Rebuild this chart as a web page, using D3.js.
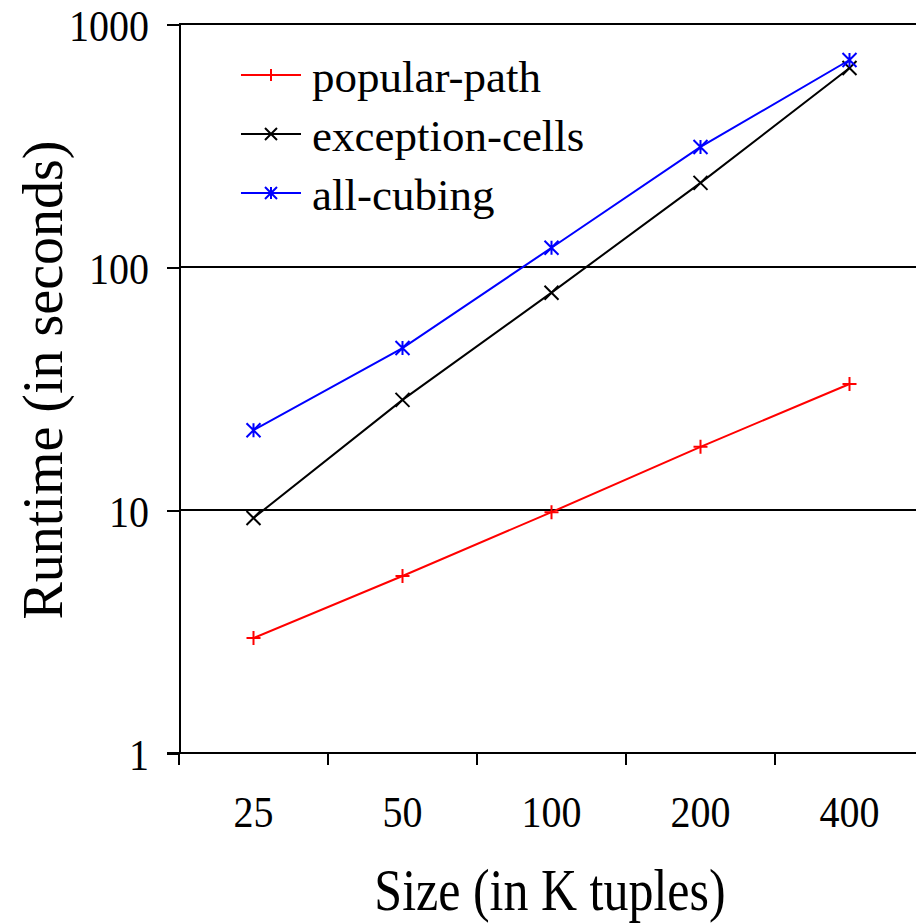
<!DOCTYPE html>
<meta charset="utf-8">
<style>
	body { margin: 0; background: #fff; }
	text { font-family: "Liberation Serif", "Times New Roman", serif; fill: #000; }
	.grid line, .axis line, .axis path { stroke: #000; stroke-width: 2px; shape-rendering: crispEdges; }
	.line { fill: none; stroke-width: 2px; }
	.mark { fill: none; stroke-width: 2px; }
</style>
<svg width="916" height="924"></svg>
<script src="https://cdn.jsdelivr.net/npm/d3@7"></script>
<script>

// values
var sizes = ["25", "50", "100", "200", "400"];
var popularPath = [2.97, 5.35, 9.8, 18.2, 33.0];
var exceptionCells = [9.27, 28.4, 78.4, 222, 659];
var allCubing = [21.3, 46.4, 120, 312, 711];
var yTicks = [1, 10, 100, 1000];

var series = [
	{name: "popular-path", values: popularPath, color: "#ff0000", mark: "plus"},
	{name: "exception-cells", values: exceptionCells, color: "#000000", mark: "cross"},
	{name: "all-cubing", values: allCubing, color: "#0000ff", mark: "star"}
];

var svg = d3.select("svg");

var plotLeft = 179, plotTop = 24, plotBottom = 753, band = 149;

var x = d3.scaleBand().domain(sizes).range([plotLeft, plotLeft + band * sizes.length]).padding(0);
var y = d3.scaleLog().domain([1, 1000]).range([plotBottom, plotTop]);

function cx(d) { return x(d) + x.bandwidth() / 2; }

// marker shapes, r = half size
function markPath(type, r) {
	var p = d3.path();
	if (type == "plus" || type == "star") {
		if (type == "plus") { p.moveTo(-r, 0); p.lineTo(r, 0); }
		p.moveTo(0, -r); p.lineTo(0, r);
	}
	if (type == "cross" || type == "star") {
		p.moveTo(-r, -r); p.lineTo(r, r);
		p.moveTo(-r, r); p.lineTo(r, -r);
	}
	return p.toString();
}

// gridlines (10, 100, 1000)
svg.append("g").attr("class", "grid")
	.selectAll("line")
	.data(yTicks.slice(1))
	.enter().append("line")
	.attr("x1", plotLeft).attr("x2", 916)
	.attr("y1", function(d) { return y(d); })
	.attr("y2", function(d) { return y(d); });

// y axis
var yAxis = svg.append("g")
	.attr("class", "axis axis--y")
	.attr("transform", "translate(" + plotLeft + ",0)")
	.call(d3.axisLeft(y).tickValues(yTicks).tickSize(12).tickSizeOuter(0).tickFormat(""));

yAxis.selectAll(".tick").append("text")
	.attr("transform", "translate(-30,16) scale(1,1.1)")
	.attr("text-anchor", "end")
	.style("font-size", "40px")
	.text(function(d) { return d; });

// x axis: ticks on band edges
var xAxis = svg.append("g")
	.attr("class", "axis axis--x")
	.attr("transform", "translate(0," + plotBottom + ")");

xAxis.append("line")
	.attr("x1", plotLeft - 12).attr("x2", 916)
	.attr("y1", 0).attr("y2", 0);

xAxis.selectAll(".edge")
	.data(sizes)
	.enter().append("line")
	.attr("class", "edge")
	.attr("x1", function(d) { return x(d); })
	.attr("x2", function(d) { return x(d); })
	.attr("y1", 0).attr("y2", 12);

xAxis.selectAll(".lbl")
	.data(sizes)
	.enter().append("text")
	.attr("class", "lbl")
	.attr("transform", function(d) { return "translate(" + cx(d) + ",74) scale(1,1.1)"; })
	.attr("text-anchor", "middle")
	.style("font-size", "40px")
	.text(function(d) { return d; });

// axis titles
svg.append("text")
	.attr("transform", "translate(550,910) scale(1,1.2)")
	.attr("text-anchor", "middle")
	.style("font-size", "50px")
	.text("Size (in K tuples)");

svg.append("text")
	.attr("transform", "translate(62,380) rotate(-90)")
	.attr("text-anchor", "middle")
	.style("font-size", "56px")
	.text("Runtime (in seconds)");

// series
var line = d3.line()
	.x(function(d, i) { return cx(sizes[i]); })
	.y(function(d) { return y(d); });

var s = svg.selectAll(".series")
	.data(series)
	.enter().append("g")
	.attr("class", "series");

s.append("path")
	.attr("class", "line")
	.attr("d", function(d) { return line(d.values); })
	.style("stroke", function(d) { return d.color; });

s.each(function(ser) {
	d3.select(this).selectAll(".mark")
		.data(ser.values)
		.enter().append("path")
		.attr("class", "mark")
		.attr("transform", function(d, i) { return "translate(" + cx(sizes[i]) + "," + y(d) + ")"; })
		.attr("d", markPath(ser.mark, 7))
		.style("stroke", ser.color);
});

// legend
var legend = svg.append("g")
	.selectAll("g")
	.data(series)
	.enter().append("g")
	.attr("transform", function(d, i) { return "translate(241," + (75 + i * 59) + ")"; });

legend.append("line")
	.attr("x1", 0).attr("x2", 60)
	.attr("y1", 0).attr("y2", 0)
	.style("stroke", function(d) { return d.color; })
	.style("stroke-width", "2px");

legend.append("path")
	.attr("class", "mark")
	.attr("transform", "translate(30,0)")
	.attr("d", function(d) { return markPath(d.mark, 6); })
	.style("stroke", function(d) { return d.color; });

legend.append("text")
	.attr("x", 71)
	.attr("y", 17)
	.style("font-size", "45px")
	.text(function(d) { return d.name; });

</script>
